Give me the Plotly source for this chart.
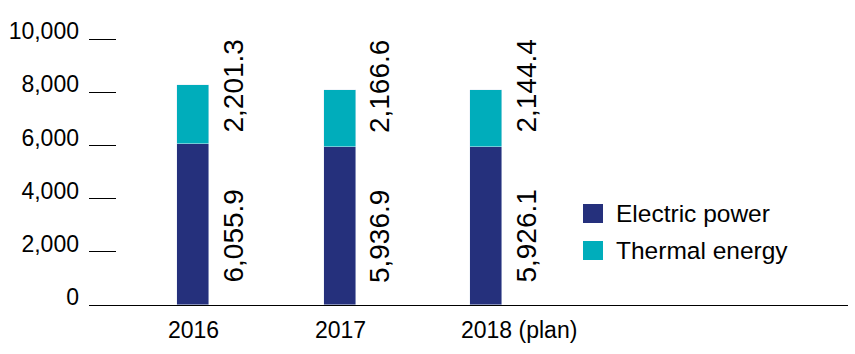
import plotly.graph_objects as go

categories = ["2016", "2017", "2018 (plan)"]
electric = [6055.9, 5936.9, 5926.1]
thermal = [2201.3, 2166.6, 2144.4]
series_names = ["Electric power", "Thermal energy"]
series_colors = ["#25307C", "#00ADBB"]
y_ticks = [0, 2000, 4000, 6000, 8000, 10000]
y_ticktext = ["0", "2,000", "4,000", "6,000", "8,000", "10,000"]

W, H = 855, 354
ML, MR, MT, MB = 89, 7, 38, 49
PW, PH = W - ML - MR, H - MT - MB
FONT = "Liberation Sans, Arial, Helvetica, sans-serif"

def px_x(p):
    return (p - ML) / PW

def px_y(p):
    return 1 - (p - MT) / PH

xs = list(range(len(categories)))
fig = go.Figure()
fig.add_trace(go.Bar(x=xs, y=electric, name=series_names[0], marker_color=series_colors[0],
                     width=0.218, showlegend=False))
fig.add_trace(go.Bar(x=xs, y=thermal, name=series_names[1], marker_color=series_colors[1],
                     width=0.218, showlegend=False))

annotations = []
shapes = []
# category labels
for i, c in enumerate(categories):
    annotations.append(dict(x=i, y=0, xref="x", yref="y", text=c, showarrow=False,
                            xanchor="left", yanchor="top", xshift=-27, yshift=-10,
                            font=dict(family=FONT, size=23, color="#000")))
# value labels
for i in xs:
    annotations.append(dict(x=i, y=0, xref="x", yref="y", text=f"{electric[i]:,.1f}",
                            showarrow=False, textangle=-90, xanchor="center", yanchor="bottom",
                            xshift=40, yshift=20, font=dict(family=FONT, size=28, color="#000")))
    annotations.append(dict(x=i, y=0, xref="x", yref="y", text=f"{thermal[i]:,.1f}",
                            showarrow=False, textangle=-90, xanchor="center", yanchor="bottom",
                            xshift=40, yshift=170, font=dict(family=FONT, size=28, color="#000")))
# legend
for k, (nm, col) in enumerate(zip(series_names, series_colors)):
    top = 204 + 37 * k
    shapes.append(dict(type="rect", xref="paper", yref="paper",
                       x0=px_x(583), x1=px_x(603), y0=px_y(top + 19), y1=px_y(top),
                       fillcolor=col, line=dict(width=0)))
    annotations.append(dict(x=px_x(614), y=px_y(top + 9.5), xref="paper", yref="paper",
                            text=nm, showarrow=False, xanchor="left", yanchor="middle",
                            font=dict(family=FONT, size=24.5, color="#000")))

fig.update_layout(
    width=W, height=H, margin=dict(l=ML, r=MR, t=MT, b=MB),
    barmode="stack", bargap=0,
    plot_bgcolor="white", paper_bgcolor="white",
    annotations=annotations, shapes=shapes, showlegend=False,
    font=dict(family=FONT, size=23, color="#000"),
)
fig.update_xaxes(range=[-0.71, 4.47], showticklabels=False, ticks="", showgrid=False,
                 zeroline=False, showline=True, linecolor="#000", linewidth=1.3)
fig.update_yaxes(range=[0, 10040], tickvals=y_ticks, ticktext=y_ticktext, ticks="inside",
                 ticklen=27, tickcolor="#000", tickwidth=1.2, showgrid=False, zeroline=False,
                 showline=False, ticklabelstandoff=9, ticklabelshift=-8,
                 tickfont=dict(family=FONT, size=23, color="#000"))

fig.write_html("out.html")
